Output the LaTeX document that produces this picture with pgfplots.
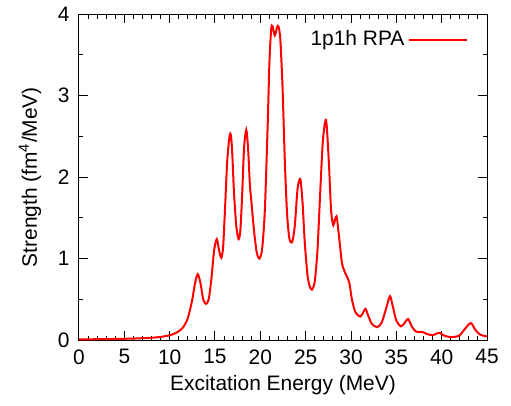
\documentclass[border=0pt]{standalone}
\usepackage{pgfplots}
\pgfplotsset{compat=1.18}
\usepackage{fontspec}
\setmainfont{Liberation Sans}
\begin{document}
\fontsize{10.5}{12}\selectfont
\begin{tikzpicture}
\begin{axis}[
  scale only axis,
  width=204bp, height=163bp,
  xmin=0, xmax=45, ymin=0, ymax=4,
  xtick={0,5,...,45}, ytick={0,1,2,3,4},
  minor x tick num=4, minor y tick num=1,
  tick align=inside,
  major tick length=4.5bp, minor tick length=2.25bp,
  tick style={black, line width=0.5bp},
  axis line style={black, line width=0.5bp},
  /pgf/number format/assume math mode=true,
  ticklabel style={font=\fontsize{10.5}{12}\selectfont},
  xticklabel style={yshift=-1bp},
  yticklabel style={xshift=-1bp},
  xlabel={Excitation Energy (MeV)},
  ylabel={Strength (fm\textsuperscript{4}/MeV)},
  xlabel style={at={(axis description cs:0.5,-0.138)}, anchor=center, font=\fontsize{10.5}{12}\selectfont},
  ylabel style={at={(axis description cs:-0.12,0.5)}, anchor=center, rotate=0, font=\fontsize{10.5}{12}\selectfont},
  legend style={at={(rel axis cs:0.97,0.975)}, anchor=north east, draw=none, fill=none,
    legend cell align=right, font=\fontsize{10.5}{12}\selectfont},
  legend plot pos=right,
  legend image code/.code={\draw[#1] (0cm,0cm) -- (29bp,0cm);},
  clip=true,
]
\addplot[red, line width=1bp, smooth, tension=0.45] coordinates {
(0,0.010) (2,0.012) (4,0.015) (6,0.020) (8,0.030) (9,0.040) (10,0.060)
(10.5,0.080) (11,0.110) (11.5,0.160) (12,0.270) (12.5,0.50) (12.8,0.70)
(13.1,0.81) (13.4,0.70) (13.7,0.50) (14.0,0.445) (14.3,0.50) (14.6,0.75)
(14.9,1.10) (15.2,1.24) (15.45,1.10) (15.7,1.01) (15.9,1.15) (16.1,1.60)
(16.35,2.20) (16.6,2.50) (16.75,2.52) (16.9,2.30) (17.1,1.80) (17.35,1.40)
(17.6,1.24) (17.8,1.35) (18.0,1.80) (18.2,2.35) (18.45,2.58) (18.65,2.35)
(18.85,1.90) (19.0,1.72) (19.3,1.35) (19.6,1.08) (19.9,1.00) (20.2,1.12)
(20.5,1.60) (20.8,2.60) (21.0,3.40) (21.2,3.82) (21.35,3.85) (21.6,3.74)
(21.85,3.84) (22.0,3.85) (22.2,3.70) (22.45,3.10) (22.7,2.20) (22.95,1.55)
(23.2,1.25) (23.5,1.20) (23.8,1.40) (24.1,1.85) (24.4,1.98) (24.65,1.70)
(24.9,1.20) (25.2,0.80) (25.45,0.66) (25.7,0.62) (26.0,0.72) (26.3,1.10)
(26.6,1.80) (26.9,2.45) (27.25,2.70) (27.55,2.20) (27.8,1.60) (28.05,1.41)
(28.4,1.52) (28.7,1.25) (29.0,0.95) (29.3,0.84) (29.8,0.71) (30.1,0.50)
(30.5,0.34) (31.0,0.29) (31.3,0.33) (31.6,0.385) (31.9,0.30) (32.3,0.20)
(32.9,0.16) (33.4,0.22) (33.9,0.40) (34.3,0.54) (34.6,0.42) (35.0,0.24)
(35.5,0.17) (35.9,0.21) (36.3,0.26) (36.7,0.17) (37.1,0.11) (37.4,0.10)
(37.9,0.10) (38.4,0.075) (39.0,0.06) (39.4,0.08) (39.8,0.09) (40.2,0.06)
(40.8,0.04) (41.4,0.04) (42.0,0.06) (42.5,0.13) (43.2,0.21) (43.7,0.13)
(44.2,0.07) (45,0.045)
};
\addlegendentry{1p1h RPA}
\coordinate (bbbl) at (rel axis cs:-0.1936,-0.1994);
\coordinate (bbtr) at (rel axis cs:1.0588,1.0368);
\end{axis}
\path (bbbl) rectangle (bbtr);
\end{tikzpicture}
\end{document}
